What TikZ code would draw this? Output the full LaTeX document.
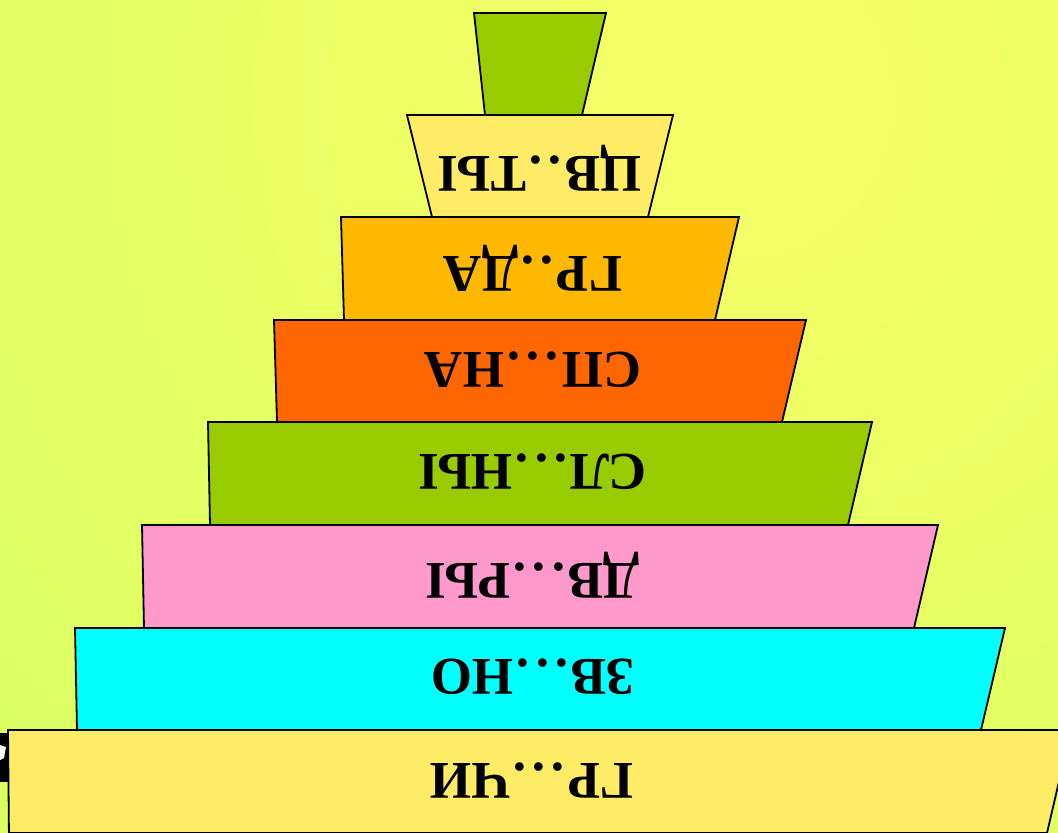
\documentclass[tikz,border=0pt]{standalone}
\usepackage{fontspec}
\setmainfont{Liberation Serif}
\usepackage{tikz}
\usetikzlibrary{positioning}
\definecolor{bginner}{RGB}{246,255,102}
\definecolor{bgouter}{RGB}{190,255,95}
\definecolor{potgreen}{RGB}{153,204,0}
\definecolor{paleyellow}{RGB}{255,236,102}
\definecolor{amber}{RGB}{255,184,0}
\definecolor{deeporange}{RGB}{255,102,0}
\definecolor{pinkish}{RGB}{255,153,204}
\definecolor{aqua}{RGB}{0,255,255}
\newcommand{\dt}{\kern3pt.\kern3pt}

\begin{document}
\begin{tikzpicture}[x=1pt,y=-1pt,
    layer/.style={draw=black,line width=1.8pt,line join=miter},
    word/.style={rotate=180,inner sep=0pt,
                 font=\bfseries\fontsize{53}{53}\selectfont}]

  \useasboundingbox (0,0) rectangle (1058,833);
  \clip (0,0) rectangle (1058,833);

  % background
  \shade[inner color=bginner,outer color=bgouter] (735,100) circle (2000pt);

  % fragment at the left edge
  \fill[black] (0,733) rectangle (8,782);
  \fill[white] (0,745) -- (6,747) -- (4,758) -- (0,760) -- cycle;

  % pot on top
  \draw[layer,fill=potgreen] (474,13) -- (606,13) -- (582,115) -- (485,115) -- cycle;

  % layers, top to bottom
  \draw[layer,fill=paleyellow] (407,115) -- (673,115) -- (648,217) -- (432,217) -- cycle;
  \node[word] (cvety) at (540,168) {ЦВ\dt\dt ТЫ};

  \draw[layer,fill=amber] (341,217) -- (739,217) -- (715,320) -- (344,320) -- cycle;
  \node[word] (gryada) at (533,268) {ГР\dt\dt ДА};

  \draw[layer,fill=deeporange] (274,320) -- (806,320) -- (782,422) -- (277,422) -- cycle;
  \node[word] (spina) at (533,370) {СП\dt\dt\dt НА};

  \draw[layer,fill=potgreen] (208,422) -- (872,422) -- (848,525) -- (210,525) -- cycle;
  \node[word] (slony) at (533,472) {СЛ\dt\dt\dt НЫ};

  \draw[layer,fill=pinkish] (142,525) -- (938,525) -- (914,628) -- (144,628) -- cycle;
  \node[word] (dvory) at (533,575) {ДВ\dt\dt\dt РЫ};

  \draw[layer,fill=aqua] (75,628) -- (1005,628) -- (981,730) -- (77,730) -- cycle;
  \node[word] (zveno) at (533,677) {ЗВ\dt\dt\dt НО};

  \draw[layer,fill=paleyellow] (8,730) -- (1071,730) -- (1047,833) -- (9,833) -- (9,840) -- cycle;
  \node[word] (grachi) at (532,780) {ГР\dt\dt\dt ЧИ};

\end{tikzpicture}
\end{document}
